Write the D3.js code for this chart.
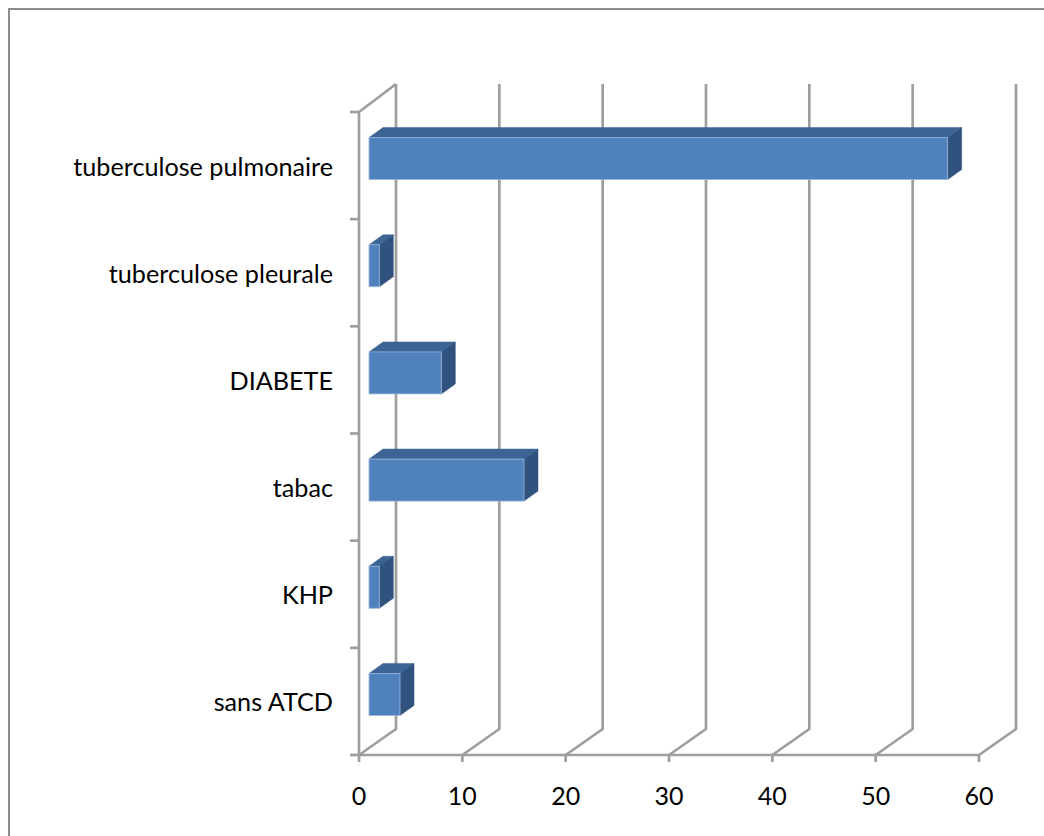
<!DOCTYPE html>
<html>
<head>
<meta charset="utf-8">
<script src="https://cdn.jsdelivr.net/npm/d3@7"></script>
<style>
  html, body { margin: 0; padding: 0; background: #ffffff; }
  svg { display: block; }
  text { font-family: Lato, "Open Sans", sans-serif; fill: #000; }
</style>
</head>
<body>
<div id="chart"></div>
<script>
// Antécédents des patients
const categories = ["tuberculose pulmonaire", "tuberculose pleurale", "DIABETE", "tabac", "KHP", "sans ATCD"];
const values = [56, 1, 7, 15, 1, 3];
const xTicks = [0, 10, 20, 30, 40, 50, 60];

const W = 1044, H = 836;
const svg = d3.select("#chart").append("svg").attr("width", W).attr("height", H);

// outer frame of the chart area
svg.append("path")
  .attr("d", `M9,${H + 5} L9,9 L${W + 5},9`)
  .attr("fill", "none").attr("stroke", "#8c8c8c").attr("stroke-width", 2);

// plot box (front plane) and 3D depth vector
const plotLeft = 359, plotRight = 979, plotTop = 112, plotBottom = 755;
const depth = { dx: 37, dy: -26 };

const x = d3.scaleLinear().domain([0, 60]).range([plotLeft, plotRight]);
const y = d3.scaleBand().domain(categories).range([plotTop, plotBottom]).paddingInner(0).paddingOuter(0);

const gridColor = "#9e9e9e";
const gridWidth = 2.7;
const g = svg.append("g");

// gridlines: floor diagonal + back wall vertical for every tick
xTicks.forEach(t => {
  const x0 = x(t);
  g.append("path")
    .attr("d", `M${x0},${plotBottom} L${x0 + depth.dx},${plotBottom + depth.dy} L${x0 + depth.dx},${plotTop - 28}`)
    .attr("fill", "none").attr("stroke", gridColor).attr("stroke-width", gridWidth)
    .attr("stroke-linejoin", "round");
});

// left wall: vertical category axis and its top edge
g.append("path")
  .attr("d", `M${plotLeft},${plotBottom} L${plotLeft},${plotTop} L${plotLeft + depth.dx},${plotTop - 28}`)
  .attr("fill", "none").attr("stroke", gridColor).attr("stroke-width", gridWidth)
  .attr("stroke-linejoin", "round");

// front horizontal axis line
g.append("line")
  .attr("x1", plotLeft).attr("x2", plotRight).attr("y1", plotBottom).attr("y2", plotBottom)
  .attr("stroke", gridColor).attr("stroke-width", gridWidth);

// x ticks
xTicks.forEach(t => {
  g.append("line")
    .attr("x1", x(t)).attr("x2", x(t)).attr("y1", plotBottom).attr("y2", plotBottom + 7)
    .attr("stroke", gridColor).attr("stroke-width", gridWidth);
});

// category ticks at band boundaries
const boundaries = categories.map(c => y(c)).concat([plotBottom]);
boundaries.forEach(b => {
  g.append("line")
    .attr("x1", plotLeft - 9).attr("x2", plotLeft).attr("y1", b).attr("y2", b)
    .attr("stroke", gridColor).attr("stroke-width", gridWidth);
});

// x tick labels
svg.append("g").selectAll("text").data(xTicks).join("text")
  .attr("x", d => x(d)).attr("y", 805)
  .attr("text-anchor", "middle").attr("font-size", 25)
  .text(d => d);

// category labels
svg.append("g").selectAll("text").data(categories).join("text")
  .attr("x", 333).attr("y", d => y(d) + y.bandwidth() / 2 + 10)
  .attr("text-anchor", "end").attr("font-size", 25.2)
  .text(d => d);

// 3D bars
const front = { dx: 10, dy: -7 };   // front face offset inside the depth
const bd = { dx: 14, dy: -10 };     // bar depth
const barH = 42;

const bars = svg.append("g").selectAll("g").data(categories.map((c, i) => ({ c, v: values[i] }))).join("g");

bars.each(function (d) {
  const gb = d3.select(this);
  const x0 = x(0) + front.dx;
  const x1 = x(d.v) + front.dx;
  const yc = y(d.c) + y.bandwidth() / 2 + front.dy;
  const y0 = yc - barH / 2, y1 = yc + barH / 2;
  // top face
  gb.append("path")
    .attr("d", `M${x0},${y0} L${x0 + bd.dx},${y0 + bd.dy} L${x1 + bd.dx},${y0 + bd.dy} L${x1},${y0} Z`)
    .attr("fill", "#3c6595").attr("stroke", "#3c6595").attr("stroke-width", 0.5);
  // side face
  gb.append("path")
    .attr("d", `M${x1},${y0} L${x1 + bd.dx},${y0 + bd.dy} L${x1 + bd.dx},${y1 + bd.dy} L${x1},${y1} Z`)
    .attr("fill", "#30527f").attr("stroke", "#30527f").attr("stroke-width", 0.5);
  // front face
  gb.append("rect")
    .attr("x", x0).attr("y", y0).attr("width", x1 - x0).attr("height", barH)
    .attr("fill", "#4f81bd").attr("stroke", "#9db6d8").attr("stroke-width", 0.8);
});
</script>
</body>
</html>
